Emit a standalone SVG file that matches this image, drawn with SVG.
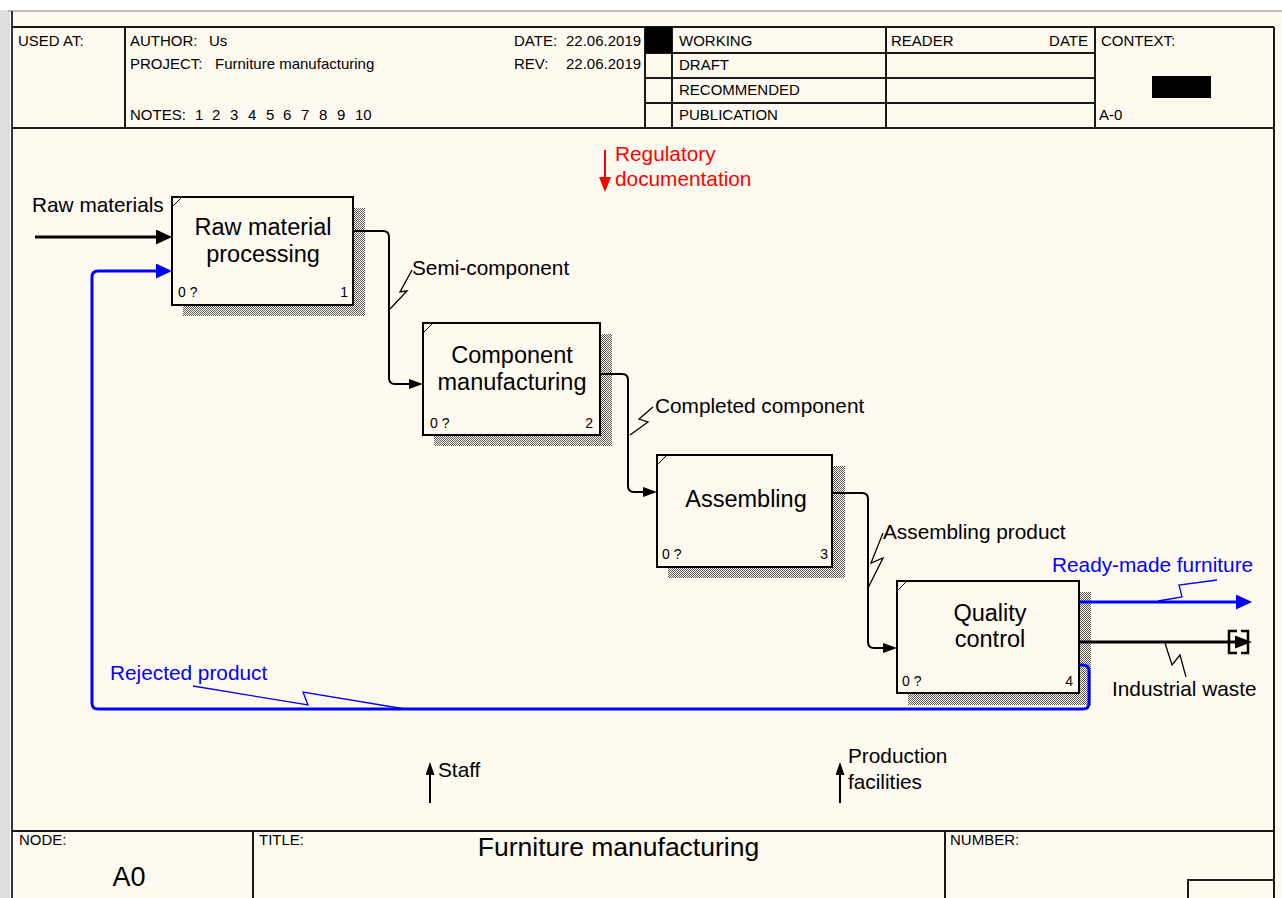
<svg xmlns="http://www.w3.org/2000/svg" width="1282" height="898" viewBox="0 0 1282 898">
<defs>
<pattern id="hatch" width="2" height="2" patternUnits="userSpaceOnUse"><rect width="2" height="2" fill="#fffaf0"/><rect width="1" height="1" fill="#5a5a5a"/><rect x="1" y="1" width="1" height="1" fill="#5a5a5a"/></pattern>
<marker id="ahBig" viewBox="0 0 16 15" refX="8" refY="7.5" markerWidth="16" markerHeight="15" markerUnits="userSpaceOnUse" orient="auto"><path d="M0,0 L16,7.5 L0,15 Z" fill="#000"/></marker>
<marker id="ahBlue" viewBox="0 0 16 15" refX="8" refY="7.5" markerWidth="16" markerHeight="15" markerUnits="userSpaceOnUse" orient="auto"><path d="M0,0 L16,7.5 L0,15 Z" fill="#0000ff"/></marker>
<marker id="ahSmall" viewBox="0 0 14 10" refX="7" refY="5" markerWidth="14" markerHeight="10" markerUnits="userSpaceOnUse" orient="auto"><path d="M0,0 L14,5 L0,10 Z" fill="#000"/></marker>
<marker id="ahRed" viewBox="0 0 15 12" refX="7.5" refY="6" markerWidth="15" markerHeight="12" markerUnits="userSpaceOnUse" orient="auto"><path d="M0,0 L15,6 L0,12 Z" fill="#ff0000"/></marker>
<marker id="ahUp" viewBox="0 0 13 9" refX="6.5" refY="4.5" markerWidth="13" markerHeight="9" markerUnits="userSpaceOnUse" orient="auto"><path d="M0,0 L13,4.5 L0,9 Z" fill="#000"/></marker>
<marker id="ahTun" viewBox="0 0 17 13" refX="8.5" refY="6.5" markerWidth="17" markerHeight="13" markerUnits="userSpaceOnUse" orient="auto"><path d="M0,0 L17,6.5 L0,13 Z" fill="#000"/></marker>
</defs>
<style>
text{font-family:"Liberation Sans",Arial,sans-serif;fill:#000}
.hdr{font-size:15px}
.line{stroke:#1a1a1a;stroke-width:2;fill:none}
.box{fill:#fffaf0;stroke:#000;stroke-width:2}
.shadow{fill:url(#hatch)}
.tick{stroke:#000;stroke-width:1;fill:none}
.bl{font-size:23.5px;text-anchor:middle}
.bn{font-size:14px}
.lbl{font-size:20.8px}
.arr{fill:none;stroke:#000;stroke-width:2}
.thick{stroke-width:3}
.blue{stroke:#0000ff}
.sq{fill:none;stroke:#000;stroke-width:1.3}
.sqb{fill:none;stroke:#0000ff;stroke-width:1.3}
.tblue{fill:#0000ff}
.tred{fill:#ff0000}
</style>

<!-- window / page background -->
<rect x="0" y="0" width="1282" height="898" fill="#ffffff"/>
<rect x="0" y="10" width="10" height="888" fill="#dedede"/>
<rect x="12" y="12" width="1270" height="886" fill="#fffaf0"/>
<line x1="8" y1="11" x2="1282" y2="11" stroke="#a8a8a8" stroke-width="1.5"/>
<line x1="12" y1="11" x2="12" y2="898" stroke="#333" stroke-width="2"/>

<!-- header -->
<g id="header">
<line class="line" x1="12" y1="27" x2="1274" y2="27"/>
<line class="line" x1="12" y1="128" x2="1274" y2="128"/>
<line class="line" x1="125" y1="27" x2="125" y2="128"/>
<line class="line" x1="645" y1="27" x2="645" y2="128"/>
<line class="line" x1="672" y1="27" x2="672" y2="128"/>
<line class="line" x1="886" y1="27" x2="886" y2="128"/>
<line class="line" x1="1095" y1="27" x2="1095" y2="128"/>
<line class="line" x1="645" y1="53" x2="1095" y2="53"/>
<line class="line" x1="645" y1="78" x2="1095" y2="78"/>
<line class="line" x1="645" y1="103" x2="1095" y2="103"/>
<rect x="645" y="27" width="27" height="26" fill="#000"/>
<rect x="1152" y="76" width="59" height="22" fill="#000"/>
<text class="hdr" x="18" y="46">USED AT:</text>
<text class="hdr" x="130" y="46">AUTHOR:</text>
<text class="hdr" x="209" y="46">Us</text>
<text class="hdr" x="130" y="69">PROJECT:</text>
<text class="hdr" x="215" y="69">Furniture manufacturing</text>
<text class="hdr" x="130" y="120">NOTES:</text>
<text class="hdr" y="120"><tspan x="195">1</tspan><tspan x="212">2</tspan><tspan x="230">3</tspan><tspan x="248">4</tspan><tspan x="266">5</tspan><tspan x="283">6</tspan><tspan x="301">7</tspan><tspan x="319">8</tspan><tspan x="337">9</tspan><tspan x="355">10</tspan></text>
<text class="hdr" x="514" y="46">DATE:</text>
<text class="hdr" x="566" y="46">22.06.2019</text>
<text class="hdr" x="514" y="69">REV:</text>
<text class="hdr" x="566" y="69">22.06.2019</text>
<text class="hdr" x="679" y="46">WORKING</text>
<text class="hdr" x="679" y="70">DRAFT</text>
<text class="hdr" x="679" y="95">RECOMMENDED</text>
<text class="hdr" x="679" y="120">PUBLICATION</text>
<text class="hdr" x="891" y="46">READER</text>
<text class="hdr" x="1088" y="46" text-anchor="end">DATE</text>
<text class="hdr" x="1101" y="46">CONTEXT:</text>
<text class="hdr" x="1099" y="120">A-0</text>
</g>

<!-- frame right -->
<line class="line" x1="1274" y1="27" x2="1274" y2="898"/>

<!-- footer -->
<g id="footer">
<line class="line" x1="12" y1="831" x2="1274" y2="831"/>
<line class="line" x1="253" y1="831" x2="253" y2="898"/>
<line class="line" x1="945" y1="831" x2="945" y2="898"/>
<polyline class="line" points="1188,898 1188,880 1274,880"/>
<text class="hdr" x="19" y="845">NODE:</text>
<text class="hdr" x="259" y="845">TITLE:</text>
<text class="hdr" x="950" y="845">NUMBER:</text>
<text x="129" y="886" font-size="27" text-anchor="middle">A0</text>
<text x="618.5" y="856" font-size="26.5" text-anchor="middle">Furniture manufacturing</text>
</g>

<!-- nodes -->
<g id="box1">
<rect class="shadow" x="183" y="208" width="182" height="108"/>
<rect class="box" x="172" y="197" width="181" height="108"/>
<line class="tick" x1="172" y1="207" x2="182" y2="197"/>
<text class="bl" x="263" y="235">Raw material</text>
<text class="bl" x="263" y="262">processing</text>
<text class="bn" x="178" y="297">0 ?</text>
<text class="bn" x="348" y="297" text-anchor="end">1</text>
</g>
<g id="box2">
<rect class="shadow" x="434" y="334" width="178" height="112"/>
<rect class="box" x="423" y="323" width="177" height="112"/>
<line class="tick" x1="423" y1="333" x2="433" y2="323"/>
<text class="bl" x="512" y="363">Component</text>
<text class="bl" x="512" y="390">manufacturing</text>
<text class="bn" x="430" y="428">0 ?</text>
<text class="bn" x="593" y="428" text-anchor="end">2</text>
</g>
<g id="box3">
<rect class="shadow" x="668" y="466" width="177" height="112"/>
<rect class="box" x="657" y="455" width="175" height="112"/>
<line class="tick" x1="657" y1="465" x2="667" y2="455"/>
<text class="bl" x="746" y="507">Assembling</text>
<text class="bn" x="662" y="559">0 ?</text>
<text class="bn" x="828" y="559" text-anchor="end">3</text>
</g>
<g id="box4">
<rect class="shadow" x="908" y="592" width="183" height="113"/>
<rect class="box" x="897" y="581" width="182" height="112"/>
<line class="tick" x1="897" y1="591" x2="907" y2="581"/>
<text class="bl" x="990" y="621">Quality</text>
<text class="bl" x="990" y="647">control</text>
<text class="bn" x="902" y="686">0 ?</text>
<text class="bn" x="1073" y="686" text-anchor="end">4</text>
</g>

<!-- connectors -->
<g id="connectors">
<!-- Raw materials -->
<path class="arr thick" d="M35,237 L164,237" marker-end="url(#ahBig)"/>
<text class="lbl" x="32" y="212">Raw materials</text>
<!-- Rejected product feedback -->
<path class="arr thick blue" d="M1079,665 L1083,665 Q1089,665 1089,671 L1089,703 Q1089,709 1083,709 L98,709 Q92,709 92,703 L92,277 Q92,271 98,271 L164,271" marker-end="url(#ahBlue)"/>
<path class="sqb" d="M193,686 L308,705 L303,692 L405,709"/>
<text class="lbl tblue" x="110" y="680">Rejected product</text>
<!-- Regulatory documentation -->
<path class="arr" style="stroke:#ff0000" d="M605,150 L605,184.5" marker-end="url(#ahRed)"/>
<text class="lbl tred" x="615" y="161">Regulatory</text>
<text class="lbl tred" x="615" y="186">documentation</text>
<!-- Semi-component -->
<path class="arr" d="M353,231 L383,231 Q389,231 389,237 L389,378 Q389,384 395,384 L416,384" marker-end="url(#ahSmall)"/>
<path class="sq" d="M412,270 L400,292 L407,291 L390,309"/>
<text class="lbl" x="412" y="275">Semi-component</text>
<!-- Completed component -->
<path class="arr" d="M600,374 L622,374 Q628,374 628,380 L628,486 Q628,492 634,492 L650,492" marker-end="url(#ahSmall)"/>
<path class="sq" d="M653,407 L639,419 L648,422 L630,435"/>
<text class="lbl" x="655" y="413">Completed component</text>
<!-- Assembling product -->
<path class="arr" d="M832,493 L862,493 Q868,493 868,499 L868,642 Q868,648 874,648 L890,648" marker-end="url(#ahSmall)"/>
<path class="sq" d="M883,533 L871,563 L883,558 L868,588"/>
<text class="lbl" x="883" y="539">Assembling product</text>
<!-- Ready-made furniture -->
<path class="arr thick blue" d="M1079,602 L1244,602" marker-end="url(#ahBlue)"/>
<path class="sqb" d="M1217,580 L1179,585 L1182,597 L1158,601"/>
<text class="lbl tblue" x="1052" y="572">Ready-made furniture</text>
<!-- Industrial waste -->
<path class="arr thick" d="M1079,642 L1243.5,642" marker-end="url(#ahTun)"/>
<path fill="none" stroke="#000" stroke-width="2.5" d="M1237,631 L1229,631 L1229,653 L1237,653"/>
<path fill="none" stroke="#000" stroke-width="2.5" d="M1241,631 L1248,631 L1248,653 L1241,653"/>
<path class="sq" d="M1186,677 L1180,655 L1172,665 L1165,643"/>
<text class="lbl" x="1112" y="696">Industrial waste</text>
<!-- Staff -->
<path class="arr" d="M430,803 L430,768.5" marker-end="url(#ahUp)"/>
<text class="lbl" x="438" y="777">Staff</text>
<!-- Production facilities -->
<path class="arr" d="M840,803 L840,768.5" marker-end="url(#ahUp)"/>
<text class="lbl" x="848" y="763">Production</text>
<text class="lbl" x="848" y="789">facilities</text>
</g>
</svg>
